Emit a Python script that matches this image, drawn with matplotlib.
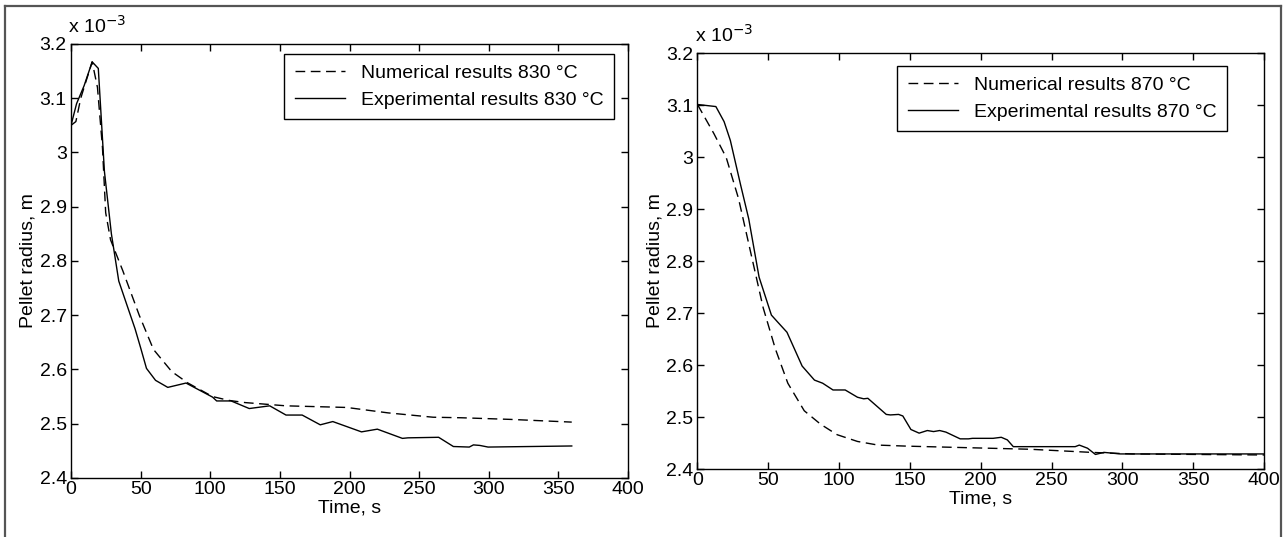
import matplotlib
matplotlib.use("Agg")
import matplotlib.pyplot as plt
from matplotlib.lines import Line2D
from matplotlib.ticker import FuncFormatter

plt.rcParams['font.family'] = ['Liberation Sans', 'DejaVu Sans']

# radius values in units of 1e-3 m
t_num_830 = [0, 3.5, 7, 10, 15.2, 19, 22.6, 24.9, 28.4, 37.2, 49, 59.2, 72.4, 84, 101.7,
             113.4, 125, 154.4, 198, 227.7, 260, 280.4, 315.6, 359.6]
r_num_830 = [3.05, 3.057, 3.10, 3.125, 3.167, 3.12, 3.009, 2.889, 2.839, 2.782, 2.70, 2.637,
             2.596, 2.575, 2.55, 2.543, 2.539, 2.533, 2.53, 2.52, 2.512, 2.511, 2.508, 2.503]

t_exp_830 = [0, 4, 9.4, 15.2, 19.6, 24, 29, 34.3, 40, 46, 50, 54.2, 60.7, 69.5, 82.6, 101.7,
             104.6, 115, 128, 142.7, 154.4, 166, 179, 188, 208.6, 220, 238, 242, 264, 274.6,
             286, 289, 293.6, 299.5, 359.6]
r_exp_830 = [3.05, 3.09, 3.123, 3.167, 3.155, 2.965, 2.85, 2.763, 2.72, 2.675, 2.64, 2.602,
             2.58, 2.567, 2.575, 2.549, 2.542, 2.542, 2.528, 2.533, 2.516, 2.516, 2.498, 2.504,
             2.485, 2.49, 2.473, 2.474, 2.475, 2.458, 2.457, 2.461, 2.46, 2.457, 2.459]

t_num_870 = [0, 11.6, 20.3, 29, 37.7, 46.4, 55, 63.8, 75.4, 87, 98.6, 113, 127.5, 147.8,
             191, 234.8, 278, 307, 400]
r_num_870 = [3.101, 3.045, 2.999, 2.92, 2.815, 2.71, 2.631, 2.565, 2.512, 2.486, 2.466,
             2.453, 2.446, 2.444, 2.441, 2.438, 2.432, 2.429, 2.427]

t_exp_870 = [0, 13, 18.8, 23.2, 30.4, 36.2, 43.5, 52.2, 56.5, 63.2, 73.9, 82.6, 88.4, 95.7,
             104.3, 113, 117.4, 120.3, 133.3, 136.2, 142, 145, 150.7, 156.5, 162.3, 166.7,
             171, 175.4, 185.5, 191.3, 194.2, 208.7, 214.5, 218.8, 223, 229, 266.7, 269.6,
             275.4, 281, 287, 298.6, 336, 400]
r_exp_870 = [3.101, 3.097, 3.068, 3.032, 2.947, 2.881, 2.769, 2.696, 2.683, 2.663, 2.598,
             2.571, 2.565, 2.552, 2.552, 2.538, 2.535, 2.536, 2.505, 2.504, 2.505, 2.502,
             2.476, 2.469, 2.474, 2.472, 2.474, 2.471, 2.458, 2.458, 2.459, 2.459, 2.461,
             2.456, 2.443, 2.443, 2.443, 2.446, 2.44, 2.428, 2.432, 2.429, 2.429, 2.429]

x_ticks = [0, 50, 100, 150, 200, 250, 300, 350, 400]
y_ticks = [2.4, 2.5, 2.6, 2.7, 2.8, 2.9, 3.0, 3.1, 3.2]

FS = 14

fig = plt.figure(figsize=(12.84, 5.37), dpi=100)
ax1 = fig.add_axes([0.0553, 0.1099, 0.4338, 0.8082])
ax2 = fig.add_axes([0.5432, 0.1266, 0.4412, 0.7747])

panels = [
    (ax1, t_num_830, r_num_830, t_exp_830, r_exp_830, "830", (0.975, 0.977)),
    (ax2, t_num_870, r_num_870, t_exp_870, r_exp_870, "870", (0.935, 0.969)),
]

for ax, tn, rn, te, re, temp, anchor in panels:
    ax.plot(tn, rn, color='black', lw=1.0, dashes=(7, 4),
            label=f"Numerical results {temp} °C")
    ax.plot(te, re, color='black', lw=1.0,
            label=f"Experimental results {temp} °C")
    ax.set_xlim(0, 400)
    ax.set_ylim(2.4, 3.2)
    ax.set_xticks(x_ticks)
    ax.set_yticks(y_ticks)
    ax.yaxis.set_major_formatter(FuncFormatter(lambda v, p: f"{v:g}"))
    ax.tick_params(direction='in', top=True, right=True, length=5, width=1,
                   labelsize=FS, pad=3)
    ax.tick_params(axis='x', pad=2)
    for s in ax.spines.values():
        s.set_linewidth(1.0)
    ax.set_xlabel("Time, s", fontsize=FS, labelpad=1)
    ax.set_ylabel("Pellet radius, m", fontsize=FS, labelpad=2)
    ax.annotate("x 10$^{-3}$", xy=(0, 1), xycoords='axes fraction',
                xytext=(-2, 5), textcoords='offset points',
                ha='left', va='bottom', fontsize=FS)
    leg = ax.legend(loc='upper right', bbox_to_anchor=anchor, fontsize=FS,
                    handlelength=2.6, fancybox=False, framealpha=1,
                    edgecolor='black', borderpad=0.55, labelspacing=0.45,
                    handletextpad=0.8, borderaxespad=0)
    leg.get_frame().set_linewidth(1.0)

# outer frame (no bottom edge)
frame_kw = dict(color='#555555', lw=1.6, transform=fig.transFigure)
fig.add_artist(Line2D([5 / 1284, 1281 / 1284], [1 - 6 / 537, 1 - 6 / 537], **frame_kw))
fig.add_artist(Line2D([5 / 1284, 5 / 1284], [0, 1 - 6 / 537], **frame_kw))
fig.add_artist(Line2D([1281 / 1284, 1281 / 1284], [0, 1 - 6 / 537], **frame_kw))

fig.savefig("out.png", dpi=100)
